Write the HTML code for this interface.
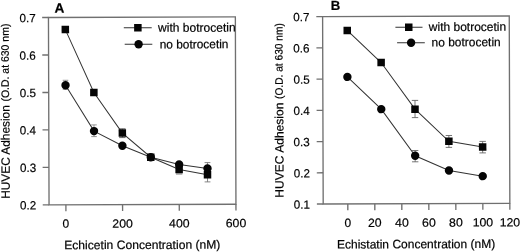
<!DOCTYPE html>
<html><head><meta charset="utf-8"><style>
html,body{margin:0;padding:0;background:#fff;}
body{width:520px;height:252px;overflow:hidden;}
svg{display:block;filter:grayscale(1) blur(0.3px);}
text{font-family:"Liberation Sans", sans-serif;fill:#000;stroke:#000;stroke-width:0.2px;}
</style></head><body>
<svg width="520" height="252" viewBox="0 0 520 252">
<rect width="520" height="252" fill="#fff"/>
<g transform="rotate(-0.18 260 126)">
<rect x="48.8" y="16.83" width="186.9" height="187.39" fill="none" stroke="#707070" stroke-width="1.35"/>
<line x1="42.5" y1="204.22" x2="48.8" y2="204.22" stroke="#707070" stroke-width="1.35"/>
<text x="36" y="208.82" font-size="12" text-anchor="end" font-weight="normal" textLength="16.2" lengthAdjust="spacingAndGlyphs">0.2</text>
<line x1="42.5" y1="166.74" x2="48.8" y2="166.74" stroke="#707070" stroke-width="1.35"/>
<text x="36" y="171.34" font-size="12" text-anchor="end" font-weight="normal" textLength="16.2" lengthAdjust="spacingAndGlyphs">0.3</text>
<line x1="42.5" y1="129.26" x2="48.8" y2="129.26" stroke="#707070" stroke-width="1.35"/>
<text x="36" y="133.86" font-size="12" text-anchor="end" font-weight="normal" textLength="16.2" lengthAdjust="spacingAndGlyphs">0.4</text>
<line x1="42.5" y1="91.79" x2="48.8" y2="91.79" stroke="#707070" stroke-width="1.35"/>
<text x="36" y="96.39" font-size="12" text-anchor="end" font-weight="normal" textLength="16.2" lengthAdjust="spacingAndGlyphs">0.5</text>
<line x1="42.5" y1="54.31" x2="48.8" y2="54.31" stroke="#707070" stroke-width="1.35"/>
<text x="36" y="58.91" font-size="12" text-anchor="end" font-weight="normal" textLength="16.2" lengthAdjust="spacingAndGlyphs">0.6</text>
<line x1="42.5" y1="16.83" x2="48.8" y2="16.83" stroke="#707070" stroke-width="1.35"/>
<text x="36" y="21.43" font-size="12" text-anchor="end" font-weight="normal" textLength="16.2" lengthAdjust="spacingAndGlyphs">0.7</text>
<line x1="65.65" y1="204.22" x2="65.65" y2="210.52" stroke="#707070" stroke-width="1.35"/>
<text x="65.65" y="227.22" font-size="12" text-anchor="middle" font-weight="normal">0</text>
<line x1="122.33" y1="204.22" x2="122.33" y2="210.52" stroke="#707070" stroke-width="1.35"/>
<text x="122.33" y="227.22" font-size="12" text-anchor="middle" font-weight="normal" textLength="20.55" lengthAdjust="spacingAndGlyphs">200</text>
<line x1="179.02" y1="204.22" x2="179.02" y2="210.52" stroke="#707070" stroke-width="1.35"/>
<text x="179.02" y="227.22" font-size="12" text-anchor="middle" font-weight="normal" textLength="20.55" lengthAdjust="spacingAndGlyphs">400</text>
<line x1="235.7" y1="204.22" x2="235.7" y2="210.52" stroke="#707070" stroke-width="1.35"/>
<text x="235.7" y="227.22" font-size="12" text-anchor="middle" font-weight="normal" textLength="20.55" lengthAdjust="spacingAndGlyphs">600</text>
<line x1="65.65" y1="79.69" x2="65.65" y2="88.69" stroke="#8a8a8a" stroke-width="0.9"/>
<line x1="62.85" y1="79.69" x2="68.45" y2="79.69" stroke="#8a8a8a" stroke-width="0.9"/>
<line x1="62.85" y1="88.69" x2="68.45" y2="88.69" stroke="#8a8a8a" stroke-width="0.9"/>
<line x1="93.99" y1="124.38" x2="93.99" y2="136.08" stroke="#8a8a8a" stroke-width="0.9"/>
<line x1="91.19" y1="124.38" x2="96.79" y2="124.38" stroke="#8a8a8a" stroke-width="0.9"/>
<line x1="91.19" y1="136.08" x2="96.79" y2="136.08" stroke="#8a8a8a" stroke-width="0.9"/>
<line x1="122.33" y1="128.37" x2="122.33" y2="137.17" stroke="#555" stroke-width="0.9"/>
<line x1="119.13" y1="128.37" x2="125.53" y2="128.37" stroke="#555" stroke-width="0.9"/>
<line x1="119.13" y1="137.17" x2="125.53" y2="137.17" stroke="#555" stroke-width="0.9"/>
<line x1="207.36" y1="162.43" x2="207.36" y2="181.73" stroke="#777" stroke-width="0.9"/>
<line x1="204.46" y1="162.43" x2="210.26" y2="162.43" stroke="#777" stroke-width="0.9"/>
<line x1="204.46" y1="181.73" x2="210.26" y2="181.73" stroke="#777" stroke-width="0.9"/>
<line x1="175.82" y1="173.75" x2="182.22" y2="173.75" stroke="#666" stroke-width="0.9"/>
<polyline points="65.65,28.99 93.99,91.93 122.33,132.67 150.68,156.91 179.02,169.25 207.36,174.63" fill="none" stroke="#333" stroke-width="1"/>
<polyline points="65.65,84.69 93.99,130.58 122.33,145.27 150.68,156.91 179.02,164.15 207.36,168.23" fill="none" stroke="#333" stroke-width="1"/>
<rect x="61.9" y="25.24" width="7.5" height="7.5" fill="#050505"/>
<rect x="90.24" y="88.18" width="7.5" height="7.5" fill="#050505"/>
<rect x="118.58" y="128.92" width="7.5" height="7.5" fill="#050505"/>
<rect x="146.93" y="153.16" width="7.5" height="7.5" fill="#050505"/>
<rect x="175.27" y="165.5" width="7.5" height="7.5" fill="#050505"/>
<rect x="203.61" y="170.88" width="7.5" height="7.5" fill="#050505"/>
<circle cx="65.65" cy="84.69" r="4.2" fill="#050505"/>
<circle cx="93.99" cy="130.58" r="4.2" fill="#050505"/>
<circle cx="122.33" cy="145.27" r="4.2" fill="#050505"/>
<circle cx="150.68" cy="156.91" r="4.2" fill="#050505"/>
<circle cx="179.02" cy="164.15" r="4.2" fill="#050505"/>
<circle cx="207.36" cy="168.23" r="4.2" fill="#050505"/>
<line x1="124.11" y1="27.32" x2="152.01" y2="27.41" stroke="#333" stroke-width="1"/>
<rect x="134.46" y="23.62" width="7.5" height="7.5" fill="#050505"/>
<line x1="124.96" y1="43.77" x2="152.56" y2="43.86" stroke="#333" stroke-width="1"/>
<circle cx="138.86" cy="43.82" r="4.2" fill="#050505"/>
<text x="158.4" y="31.53" font-size="12.2" text-anchor="start" font-weight="normal" textLength="77.6" lengthAdjust="spacingAndGlyphs">with botrocetin</text>
<text x="159.94" y="48.18" font-size="12.2" text-anchor="start" font-weight="normal" textLength="68.8" lengthAdjust="spacingAndGlyphs">no botrocetin</text>
<text x="54.86" y="12.05" font-size="13.7" text-anchor="start" font-weight="bold">A</text>
<text x="141.91" y="248.63" font-size="12.2" text-anchor="middle" font-weight="normal" textLength="156.2" lengthAdjust="spacingAndGlyphs">Echicetin Concentration (nM)</text>
<rect x="322.95" y="16.83" width="186.65" height="187.39" fill="none" stroke="#707070" stroke-width="1.35"/>
<line x1="316.65" y1="204.22" x2="322.95" y2="204.22" stroke="#707070" stroke-width="1.35"/>
<text x="309.75" y="208.82" font-size="12" text-anchor="end" font-weight="normal" textLength="16.2" lengthAdjust="spacingAndGlyphs">0.1</text>
<line x1="316.65" y1="172.99" x2="322.95" y2="172.99" stroke="#707070" stroke-width="1.35"/>
<text x="309.75" y="177.59" font-size="12" text-anchor="end" font-weight="normal" textLength="16.2" lengthAdjust="spacingAndGlyphs">0.2</text>
<line x1="316.65" y1="141.76" x2="322.95" y2="141.76" stroke="#707070" stroke-width="1.35"/>
<text x="309.75" y="146.36" font-size="12" text-anchor="end" font-weight="normal" textLength="16.2" lengthAdjust="spacingAndGlyphs">0.3</text>
<line x1="316.65" y1="110.52" x2="322.95" y2="110.52" stroke="#707070" stroke-width="1.35"/>
<text x="309.75" y="115.12" font-size="12" text-anchor="end" font-weight="normal" textLength="16.2" lengthAdjust="spacingAndGlyphs">0.4</text>
<line x1="316.65" y1="79.29" x2="322.95" y2="79.29" stroke="#707070" stroke-width="1.35"/>
<text x="309.75" y="83.89" font-size="12" text-anchor="end" font-weight="normal" textLength="16.2" lengthAdjust="spacingAndGlyphs">0.5</text>
<line x1="316.65" y1="48.06" x2="322.95" y2="48.06" stroke="#707070" stroke-width="1.35"/>
<text x="309.75" y="52.66" font-size="12" text-anchor="end" font-weight="normal" textLength="16.2" lengthAdjust="spacingAndGlyphs">0.6</text>
<line x1="316.65" y1="16.83" x2="322.95" y2="16.83" stroke="#707070" stroke-width="1.35"/>
<text x="309.75" y="21.43" font-size="12" text-anchor="end" font-weight="normal" textLength="16.2" lengthAdjust="spacingAndGlyphs">0.7</text>
<line x1="347.55" y1="204.22" x2="347.55" y2="210.52" stroke="#707070" stroke-width="1.35"/>
<text x="347.55" y="227.22" font-size="12" text-anchor="middle" font-weight="normal">0</text>
<line x1="374.56" y1="204.22" x2="374.56" y2="210.52" stroke="#707070" stroke-width="1.35"/>
<text x="374.56" y="227.22" font-size="12" text-anchor="middle" font-weight="normal" textLength="13.7" lengthAdjust="spacingAndGlyphs">20</text>
<line x1="401.57" y1="204.22" x2="401.57" y2="210.52" stroke="#707070" stroke-width="1.35"/>
<text x="401.57" y="227.22" font-size="12" text-anchor="middle" font-weight="normal" textLength="13.7" lengthAdjust="spacingAndGlyphs">40</text>
<line x1="428.58" y1="204.22" x2="428.58" y2="210.52" stroke="#707070" stroke-width="1.35"/>
<text x="428.58" y="227.22" font-size="12" text-anchor="middle" font-weight="normal" textLength="13.7" lengthAdjust="spacingAndGlyphs">60</text>
<line x1="455.58" y1="204.22" x2="455.58" y2="210.52" stroke="#707070" stroke-width="1.35"/>
<text x="455.58" y="227.22" font-size="12" text-anchor="middle" font-weight="normal" textLength="13.7" lengthAdjust="spacingAndGlyphs">80</text>
<line x1="482.59" y1="204.22" x2="482.59" y2="210.52" stroke="#707070" stroke-width="1.35"/>
<text x="482.59" y="227.22" font-size="12" text-anchor="middle" font-weight="normal" textLength="20.55" lengthAdjust="spacingAndGlyphs">100</text>
<line x1="509.6" y1="204.22" x2="509.6" y2="210.52" stroke="#707070" stroke-width="1.35"/>
<text x="509.6" y="227.22" font-size="12" text-anchor="middle" font-weight="normal" textLength="20.55" lengthAdjust="spacingAndGlyphs">120</text>
<line x1="415.07" y1="100.89" x2="415.07" y2="118.09" stroke="#666" stroke-width="0.9"/>
<line x1="411.87" y1="100.89" x2="418.27" y2="100.89" stroke="#666" stroke-width="0.9"/>
<line x1="411.87" y1="118.09" x2="418.27" y2="118.09" stroke="#666" stroke-width="0.9"/>
<line x1="415.07" y1="150.99" x2="415.07" y2="162.29" stroke="#666" stroke-width="0.9"/>
<line x1="411.87" y1="150.99" x2="418.27" y2="150.99" stroke="#666" stroke-width="0.9"/>
<line x1="411.87" y1="162.29" x2="418.27" y2="162.29" stroke="#666" stroke-width="0.9"/>
<line x1="448.83" y1="136.09" x2="448.83" y2="147.99" stroke="#666" stroke-width="0.9"/>
<line x1="445.63" y1="136.09" x2="452.03" y2="136.09" stroke="#666" stroke-width="0.9"/>
<line x1="445.63" y1="147.99" x2="452.03" y2="147.99" stroke="#666" stroke-width="0.9"/>
<line x1="482.59" y1="142.1" x2="482.59" y2="153.6" stroke="#666" stroke-width="0.9"/>
<line x1="479.39" y1="142.1" x2="485.79" y2="142.1" stroke="#666" stroke-width="0.9"/>
<line x1="479.39" y1="153.6" x2="485.79" y2="153.6" stroke="#666" stroke-width="0.9"/>
<polyline points="347.55,30.68 381.31,62.93 415.07,109.64 448.83,141.89 482.59,147.7" fill="none" stroke="#333" stroke-width="1"/>
<polyline points="347.55,77.18 381.31,109.53 415.07,156.24 448.83,171.04 482.59,176.85" fill="none" stroke="#333" stroke-width="1"/>
<rect x="343.8" y="26.93" width="7.5" height="7.5" fill="#050505"/>
<rect x="377.56" y="59.18" width="7.5" height="7.5" fill="#050505"/>
<rect x="411.32" y="105.89" width="7.5" height="7.5" fill="#050505"/>
<rect x="445.08" y="138.14" width="7.5" height="7.5" fill="#050505"/>
<rect x="478.84" y="143.95" width="7.5" height="7.5" fill="#050505"/>
<circle cx="347.55" cy="77.18" r="4.2" fill="#050505"/>
<circle cx="381.31" cy="109.53" r="4.2" fill="#050505"/>
<circle cx="415.07" cy="156.24" r="4.2" fill="#050505"/>
<circle cx="448.83" cy="171.04" r="4.2" fill="#050505"/>
<circle cx="482.59" cy="176.85" r="4.2" fill="#050505"/>
<line x1="395.71" y1="27.68" x2="422.81" y2="27.76" stroke="#333" stroke-width="1"/>
<rect x="405.31" y="23.97" width="7.5" height="7.5" fill="#050505"/>
<line x1="397.36" y1="43.18" x2="425.06" y2="43.27" stroke="#333" stroke-width="1"/>
<circle cx="411.36" cy="43.22" r="4.2" fill="#050505"/>
<text x="429.1" y="31.63" font-size="12.2" text-anchor="start" font-weight="normal" textLength="77.4" lengthAdjust="spacingAndGlyphs">with botrocetin</text>
<text x="431.75" y="46.94" font-size="12.2" text-anchor="start" font-weight="normal" textLength="69.2" lengthAdjust="spacingAndGlyphs">no botrocetin</text>
<text x="331.06" y="10.22" font-size="13.2" text-anchor="start" font-weight="bold">B</text>
<text x="415.72" y="248.79" font-size="12.2" text-anchor="middle" font-weight="normal" textLength="158.3" lengthAdjust="spacingAndGlyphs">Echistatin Concentration (nM)</text>
<g transform="translate(9.57,198.01) rotate(-90)"><text x="0" y="0" font-size="12" text-anchor="start" textLength="93.6" lengthAdjust="spacingAndGlyphs">HUVEC Adhesion</text><text x="97.2" y="-0.6" font-size="10.8" text-anchor="start" textLength="78" lengthAdjust="spacingAndGlyphs">(O.D. at 630 nm)</text></g>
<g transform="translate(283.37,197.77) rotate(-90)"><text x="0" y="0" font-size="12" text-anchor="start" textLength="95.1" lengthAdjust="spacingAndGlyphs">HUVEC Adhesion</text><text x="98.7" y="-0.6" font-size="10.8" text-anchor="start" textLength="75.9" lengthAdjust="spacingAndGlyphs">(O.D. at 630 nm)</text></g>
</g>
</svg>
</body></html>
